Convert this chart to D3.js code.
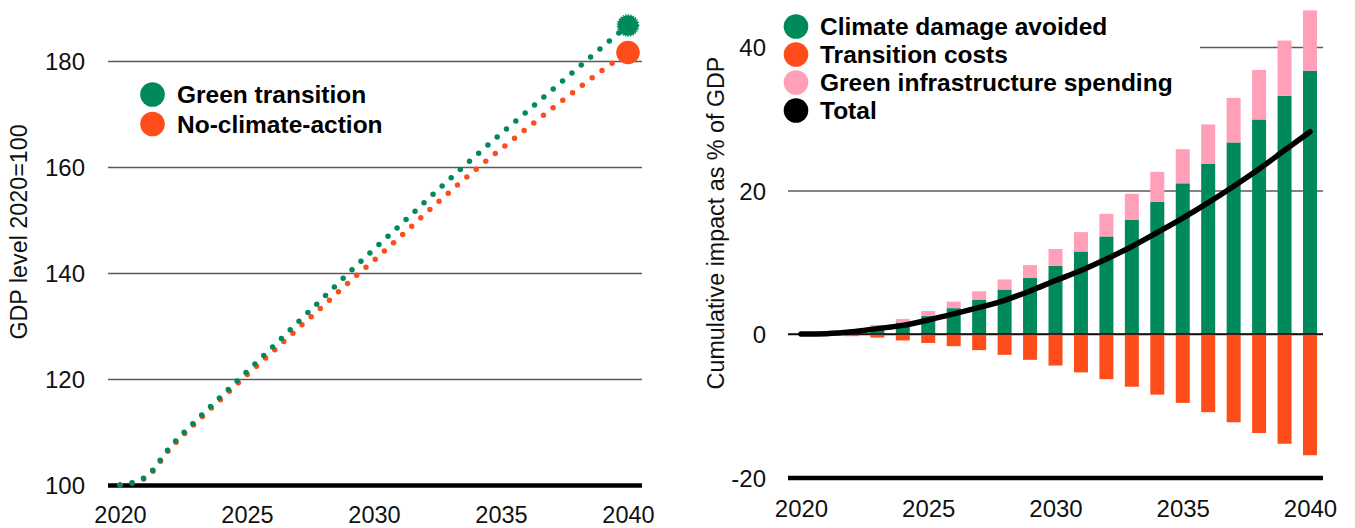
<!DOCTYPE html>
<html>
<head>
<meta charset="utf-8">
<script src="https://cdn.jsdelivr.net/npm/d3@7"></script>
<style>
  html, body { margin: 0; padding: 0; background: #fff; }
  svg { display: block; font-family: "Liberation Sans", Arial, sans-serif; }
</style>
</head>
<body>
<svg id="chart" width="1355" height="528"></svg>
<script>
// ---- Left panel: GDP level paths (2020 = 100) ----
const gdpYears = d3.range(2020, 2041);
const greenTransition = [100, 101.5, 107.3, 112.2, 116.8, 121.4, 126.0, 130.7, 135.3, 140.0, 144.5,
  148.9, 153.4, 157.8, 162.1, 166.3, 170.4, 174.5, 178.6, 182.7, 186.7];
const noClimateAction = [100, 101.3, 107.0, 111.8, 116.3, 120.8, 125.1, 129.5, 133.8, 138.2, 142.4,
  146.7, 151.1, 155.4, 159.5, 163.4, 167.2, 171.0, 174.7, 178.3, 181.6];
const gdpTicks = [100, 120, 140, 160, 180];
const yearTicks = [2020, 2025, 2030, 2035, 2040];

// ---- Right panel: cumulative impact as % of GDP ----
const impactYears = d3.range(2021, 2041);
const damageAvoided = [0.1, 0.35, 0.9, 1.6, 2.5, 3.6, 4.8, 6.2, 7.8, 9.5, 11.5, 13.6, 15.9, 18.4,
  21.0, 23.75, 26.7, 29.9, 33.2, 36.7];
const transitionCosts = [-0.1, -0.3, -0.5, -0.9, -1.25, -1.7, -2.25, -2.9, -3.6, -4.4, -5.35, -6.3,
  -7.35, -8.45, -9.6, -10.9, -12.3, -13.8, -15.3, -16.9];
const infraSpending = [0.05, 0.25, 0.35, 0.5, 0.7, 0.9, 1.15, 1.4, 1.8, 2.35, 2.7, 3.15, 3.65, 4.2,
  4.75, 5.45, 6.2, 6.9, 7.7, 8.4];
const totalYears = d3.range(2020, 2041);
const totalImpact = [0, 0.05, 0.3, 0.75, 1.2, 1.95, 2.8, 3.7, 4.7, 6.0, 7.45, 8.85, 10.45, 12.2,
  14.15, 16.15, 18.3, 20.6, 23.0, 25.6, 28.2];
const impactTicks = [-20, 0, 20, 40];

const GREEN = "#00895b", ORANGE = "#ff4c1b", PINK = "#ff9fb8";
const TICK_FONT = 24, LEGEND_FONT = 24.5, TITLE_FONT = 23.3;

const svg = d3.select("#chart");

// ================= Left panel =================
const xL = d3.scaleLinear().domain([2020, 2040]).range([120, 628]);
const yL = d3.scaleLinear().domain([100, 180]).range([485, 61]);
const left = svg.append("g");

// horizontal grid + tick labels
const yAxisL = left.append("g")
  .attr("transform", "translate(108,0)")
  .call(d3.axisLeft(yL).tickValues(gdpTicks).tickSize(-534).tickPadding(23));
yAxisL.select(".domain").remove();
yAxisL.selectAll(".tick line")
  .attr("stroke", d => d === 100 ? "#000" : "#5a5a5a")
  .attr("stroke-width", d => d === 100 ? 4.5 : 1.3);
yAxisL.selectAll(".tick text")
  .attr("font-size", TICK_FONT).attr("fill", "#111").attr("dy", "0.36em");

const xAxisL = left.append("g")
  .attr("transform", "translate(0,485)")
  .call(d3.axisBottom(xL).tickValues(yearTicks).tickFormat(d3.format("d")).tickSize(0));
xAxisL.select(".domain").remove();
xAxisL.selectAll(".tick text")
  .attr("font-size", 23.5).attr("fill", "#111").attr("y", 29.5).attr("dy", "0.36em");

left.append("text")
  .attr("transform", "translate(19,232) rotate(-90)")
  .attr("text-anchor", "middle").attr("dy", "0.36em")
  .attr("font-size", TITLE_FONT).attr("fill", "#111")
  .text("GDP level 2020=100");

// dotted GDP paths
const gdpLine = vals => d3.line()
  .x((d, i) => xL(gdpYears[i]))
  .y(d => yL(d))
  .curve(d3.curveMonotoneX)(vals);

left.append("path")
  .attr("d", gdpLine(noClimateAction))
  .attr("fill", "none").attr("stroke", ORANGE)
  .attr("stroke-width", 5.5).attr("stroke-linecap", "round")
  .attr("stroke-dasharray", "0 12.3");
left.append("path")
  .attr("d", gdpLine(greenTransition))
  .attr("fill", "none").attr("stroke", GREEN)
  .attr("stroke-width", 5.5).attr("stroke-linecap", "round")
  .attr("stroke-dasharray", "0 12.3");

// end markers at 2040
const lastG = greenTransition[greenTransition.length - 1];
const lastO = noClimateAction[noClimateAction.length - 1];
left.append("circle")
  .attr("cx", xL(2040)).attr("cy", yL(lastO)).attr("r", 11.8).attr("fill", ORANGE);
left.append("circle")
  .attr("cx", xL(2040)).attr("cy", yL(lastG)).attr("r", 10.2).attr("fill", GREEN);
left.append("circle")
  .attr("cx", xL(2040)).attr("cy", yL(lastG)).attr("r", 10.6).attr("fill", "none")
  .attr("stroke", GREEN).attr("stroke-width", 1.4).attr("stroke-dasharray", "1.4 1.2");

// legend
const legL = left.append("g");
[["Green transition", GREEN], ["No-climate-action", ORANGE]].forEach(([label, c], i) => {
  const y = 94.5 + i * 29.5;
  legL.append("circle").attr("cx", 152.5).attr("cy", y).attr("r", 12.3).attr("fill", c);
  legL.append("text").attr("x", 177).attr("y", y).attr("dy", "0.36em")
    .attr("font-size", LEGEND_FONT).attr("font-weight", 700).attr("fill", "#000").text(label);
});

// ================= Right panel =================
const xR = d3.scaleLinear().domain([2020, 2040]).range([801, 1310]);
const yR = d3.scaleLinear().domain([-20, 40]).range([477.5, 47]);
const right = svg.append("g");

const yAxisR = right.append("g")
  .attr("transform", "translate(788,0)")
  .call(d3.axisLeft(yR).tickValues(impactTicks).tickFormat(d => String(d)).tickSize(-535).tickPadding(22));
yAxisR.select(".domain").remove();
yAxisR.selectAll(".tick line")
  .attr("stroke", d => d === -20 ? "#000" : d === 0 ? "#111" : "#5a5a5a")
  .attr("stroke-width", d => d === -20 ? 4.5 : 1.3);
yAxisR.selectAll(".tick text")
  .attr("font-size", TICK_FONT).attr("fill", "#111").attr("dy", "0.36em");

const xAxisR = right.append("g")
  .attr("transform", "translate(0,477.5)")
  .call(d3.axisBottom(xR).tickValues(yearTicks).tickFormat(d3.format("d")).tickSize(0));
xAxisR.select(".domain").remove();
xAxisR.selectAll(".tick text")
  .attr("font-size", TICK_FONT).attr("fill", "#111").attr("y", 31).attr("dy", "0.36em");

right.append("text")
  .attr("transform", "translate(716,223) rotate(-90)")
  .attr("text-anchor", "middle").attr("dy", "0.36em")
  .attr("font-size", TITLE_FONT).attr("fill", "#111")
  .text("Cumulative impact as % of GDP");

// legend backdrop hides the upper grid line behind the legend
right.append("rect").attr("x", 780).attr("y", 8).attr("width", 420).attr("height", 118).attr("fill", "#fff");

// stacked bars
const barW = 14;
const bars = right.append("g");
impactYears.forEach((yr, i) => {
  const g = damageAvoided[i], p = infraSpending[i], c = transitionCosts[i];
  bars.append("rect").attr("x", xR(yr) - barW / 2).attr("width", barW)
    .attr("y", yR(g)).attr("height", yR(0) - yR(g)).attr("fill", GREEN);
  bars.append("rect").attr("x", xR(yr) - barW / 2).attr("width", barW)
    .attr("y", yR(g + p)).attr("height", yR(g) - yR(g + p)).attr("fill", PINK);
  bars.append("rect").attr("x", xR(yr) - barW / 2).attr("width", barW)
    .attr("y", yR(0)).attr("height", yR(c) - yR(0)).attr("fill", ORANGE);
});

// zero line above bars
right.append("line").attr("x1", 788).attr("x2", 1323).attr("y1", yR(0)).attr("y2", yR(0))
  .attr("stroke", "#111").attr("stroke-width", 1.3);

// total line
right.append("path")
  .attr("d", d3.line().x((d, i) => xR(totalYears[i])).y(d => yR(d)).curve(d3.curveMonotoneX)(totalImpact))
  .attr("fill", "none").attr("stroke", "#000").attr("stroke-width", 5.5)
  .attr("stroke-linecap", "round").attr("stroke-linejoin", "round");

// legend
const legR = right.append("g");
[["Climate damage avoided", GREEN], ["Transition costs", ORANGE],
 ["Green infrastructure spending", PINK], ["Total", "#000"]].forEach(([label, c], i) => {
  const y = 26.5 + i * 28;
  legR.append("circle").attr("cx", 796).attr("cy", y).attr("r", 12.3).attr("fill", c);
  legR.append("text").attr("x", 820).attr("y", y).attr("dy", "0.36em")
    .attr("font-size", LEGEND_FONT).attr("font-weight", 700).attr("fill", "#000").text(label);
});
</script>
</body>
</html>
